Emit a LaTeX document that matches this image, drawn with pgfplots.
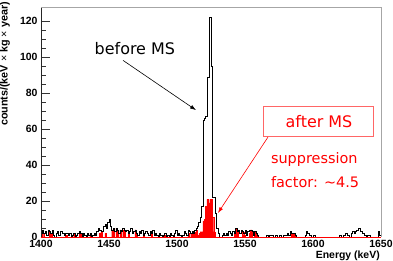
\documentclass[border=0pt]{standalone}
\usepackage{fontspec}
\setmainfont{Liberation Sans}
\newfontfamily\annfont{DejaVu Sans}
\usepackage{pgfplots}
\pgfplotsset{compat=1.18}
\usetikzlibrary{arrows.meta}
\begin{document}
\begin{tikzpicture}
\begin{axis}[name=ax, scale only axis, width=340bp, height=230bp,
  xmin=1400, xmax=1650, ymin=0, ymax=128, clip=false,
  axis line style={draw=none},
  xtick={1400,1450,...,1650}, ytick={0,20,...,120}, minor y tick num=3,
  xtick style={draw=none}, ytick style={black!80, line width=0.5pt},
  ytick pos=left, xtick pos=bottom, tick align=inside,
  major tick length=9bp, minor tick length=5bp,
  tick label style={font=\bfseries\fontsize{10.5}{12}\selectfont},
  /pgf/number format/assume math mode=true,
  /pgf/number format/set thousands separator={},
  xlabel={Energy (keV)},
  xlabel style={at={(axis description cs:0.997,-0.083)}, anchor=east, inner sep=0pt, font=\bfseries\fontsize{10.5}{12}\selectfont},
  ylabel={counts/(keV {\mdseries ×} kg {\mdseries ×} year)},
  ylabel style={at={(axis description cs:-0.106,1.022)}, anchor=east, inner sep=0pt, font=\bfseries\fontsize{10.8}{12}\selectfont},
]
% after MS (red)
\addplot[ybar, bar width=1, bar shift=0pt, fill=red, draw=red, line width=0.2pt] coordinates {
(1401.5,2)(1406.5,3)(1407.5,2)(1418.5,1)(1424.5,2)(1428.5,3)(1429.5,2)(1436.5,2)
(1443.5,2)(1444.5,3)(1447.5,2)(1452.5,4)(1453.5,3)(1455.5,5)(1456.5,3)(1458.5,4)
(1460.5,4)(1461.5,3)(1464.5,2)(1469.5,4)(1470.5,2)(1475.5,1)(1481.5,2)(1490.5,1)
(1508.5,2)(1510.5,2)(1511.5,2)(1512.5,3)(1513.5,2)(1514.5,4)(1515.5,1)(1516.5,2)
(1517.5,3)(1518.5,3)(1519.5,9)(1520.5,10)(1521.5,17)(1522.5,21)(1523.5,19)(1524.5,21)
(1525.5,21)(1526.5,11)(1527.5,3)
(1542.5,2)(1543.5,5)(1544.5,3)(1548.5,3)(1549.5,1)(1553.5,2)(1554.5,4)(1557.5,3)
(1558.5,2)(1584.5,2)(1585.5,2)(1586.5,1)
};
% before MS (black)
\addplot[const plot mark left, black, line width=0.6pt] coordinates {
(1400,2)(1401,4)(1402,2)(1403,3)(1404,1)(1405,4)(1406,3)(1407,2)(1408,4)(1409,1)
(1410,0)(1411,2)(1412,3)(1413,1)(1414,3)(1415,3)(1416,2)(1417,1)(1418,2)(1419,2)
(1420,1)(1421,2)(1422,0)(1423,1)(1424,2)(1425,0)(1426,1)(1427,2)(1428,3)(1429,2)
(1430,0)(1431,2)(1432,1)(1433,0)(1434,2)(1435,1)(1436,2)(1437,0)(1438,1)(1439,2)
(1440,1)(1441,3)(1442,5)(1443,4)(1444,3)(1445,3)(1446,6)(1447,7)(1448,5)(1449,8)
(1450,10)(1451,6)(1452,4)(1453,5)(1454,3)(1455,5)(1456,4)(1457,2)(1458,4)(1459,3)
(1460,5)(1461,4)(1462,3)(1463,4)(1464,2)(1465,3)(1466,5)(1467,2)(1468,3)(1469,4)
(1470,2)(1471,1)(1472,3)(1473,2)(1474,4)(1475,1)(1476,2)(1477,3)(1478,2)(1479,1)
(1480,3)(1481,2)(1482,4)(1483,1)(1484,2)(1485,1)(1486,0)(1487,2)(1488,1)(1489,0)
(1490,1)(1491,2)(1492,0)(1493,1)(1494,0)(1495,2)(1496,1)(1497,0)(1498,2)(1499,4)
(1500,1)(1501,2)(1502,1)(1503,0)(1504,1)(1505,3)(1506,2)(1507,1)(1508,4)(1509,3)
(1510,2)(1511,3)(1512,2)(1513,4)(1514,5)(1515,6)(1516,8)(1517,11)(1518,17)(1519,65)
(1520,66)(1521,67)(1522,89)(1523,89)(1524,122)(1525,95)(1526,22)(1527,22)(1528,13)(1529,5)
(1530,2)(1531,0)(1532,0)(1533,1)(1534,2)(1535,1)(1536,2)(1537,1)(1538,3)(1539,2)
(1540,1)(1541,3)(1542,2)(1543,5)(1544,3)(1545,4)(1546,2)(1547,4)(1548,3)(1549,2)
(1550,4)(1551,1)(1552,3)(1553,4)(1554,4)(1555,3)(1556,1)(1557,3)(1558,2)(1559,1)
(1560,0)(1561,0)(1562,0)(1563,0)(1564,0)(1565,0)(1566,1)(1567,0)(1568,1)(1569,1)
(1570,1)(1571,0)(1572,1)(1573,1)(1574,0)(1575,1)(1576,1)(1577,0)(1578,1)(1579,1)
(1580,1)(1581,2)(1582,1)(1583,3)(1584,2)(1585,2)(1586,2)(1587,1)(1588,0)(1589,0)
(1590,0)(1591,0)(1592,0)(1593,0)(1594,1)(1595,3)(1596,2)(1597,1)(1598,1)(1599,0)
(1600,1)(1601,1)(1602,0)(1603,0)(1604,0)(1605,0)(1606,0)(1607,0)(1608,0)(1609,0)
(1610,0)(1611,0)(1612,0)(1613,0)(1614,0)(1615,0)(1616,0)(1617,0)(1618,0)(1619,1)
(1620,1)(1621,0)(1622,1)(1623,1)(1624,2)(1625,1)(1626,1)(1627,0)(1628,2)(1629,3)
(1630,2)(1631,3)(1632,4)(1633,5)(1634,5)(1635,3)(1636,2)(1637,2)(1638,1)(1639,0)
(1640,1)(1641,1)(1642,0)(1643,0)(1644,0)(1645,0)(1646,0)(1647,0)(1648,3)(1649,1)
(1650,1)
};
% frame
\draw[black!85, line width=0.6pt] (rel axis cs:0,0) -- (rel axis cs:0,1);
\draw[black!35, line width=0.9pt] (rel axis cs:0,1) -- (rel axis cs:1,1) -- (rel axis cs:1,0);
\draw[red, line width=0.6pt] (rel axis cs:0,0) -- (rel axis cs:1,0);
% annotations
\node[font=\annfont\fontsize{16}{19}\selectfont] at (axis cs:1469,105) {before MS};
\draw[-{Latex[length=6bp,width=4bp]}, line width=0.6pt] (axis cs:1460.3,98.3) -- (axis cs:1514,70.6);
\draw[red!60, line width=0.6pt] (axis cs:1563.2,56.1) rectangle (axis cs:1644.1,72.8);
\node[red, font=\annfont\fontsize{16}{19}\selectfont] at (axis cs:1604.4,64.4) {after MS};
\draw[red, -{Latex[length=6bp,width=4bp]}, line width=0.6pt] (axis cs:1566.9,55.6) -- (axis cs:1530.1,13.3);
\node[red, anchor=west, align=left, inner sep=0pt, font=\annfont\fontsize{14.5}{24}\selectfont] at (axis cs:1569,37.2) {suppression\\factor: \textasciitilde4.5};
\end{axis}
\pgfresetboundingbox
\path[use as bounding box] ([shift={(-41bp,-24bp)}]ax.south west) rectangle ++(393bp,261bp);
\end{tikzpicture}
\end{document}
